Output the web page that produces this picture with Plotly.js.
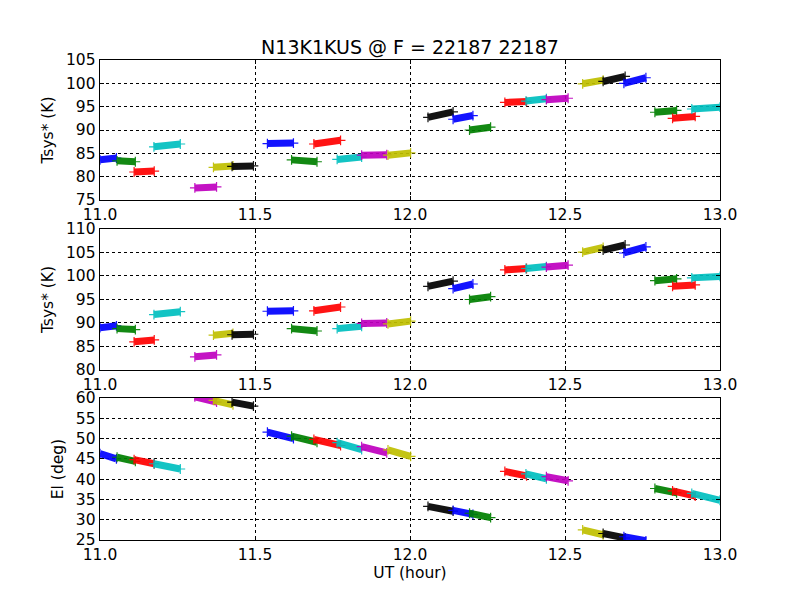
<!DOCTYPE html>
<html>
<head>
<meta charset="utf-8">
<script src="https://cdn.plot.ly/plotly-3.0.1.min.js"></script>
<style>
  body { margin: 0; background: #fff; }
  #myDiv { width: 800px; height: 600px; }
</style>
</head>
<body>
<div id="myDiv"></div>
<script>
// scan segments: start / end UT (hour)
var utStart = [11.000, 11.055, 11.110, 11.174, 11.306, 11.366, 11.426, 11.540, 11.618, 11.690, 11.765, 11.844, 11.929,
               12.058, 12.139, 12.192, 12.306, 12.374, 12.440, 12.557, 12.623, 12.690, 12.790, 12.847, 12.909];
var utEnd   = [11.053, 11.114, 11.175, 11.259, 11.376, 11.429, 11.495, 11.624, 11.700, 11.776, 11.844, 11.925, 12.002,
               12.139, 12.203, 12.260, 12.376, 12.440, 12.510, 12.623, 12.694, 12.761, 12.860, 12.920, 13.000];

// Tsys* top panel (start, end)
var tsys1Start = [83.6, 83.4, 81.0, 86.4, 77.6, 82.0, 82.2, 87.1, 83.6, 87.0, 83.7, 84.6, 84.6,
                  92.7, 92.3, 90.0, 95.9, 96.2, 96.5, 99.9, 100.4, 100.0, 93.8, 92.5, 94.5];
var tsys1End   = [84.0, 83.2, 81.2, 87.0, 77.8, 82.3, 82.3, 87.2, 83.2, 87.8, 84.2, 84.7, 85.1,
                  93.9, 93.1, 90.6, 96.1, 96.7, 96.8, 100.7, 101.5, 101.2, 94.2, 92.9, 94.9];

// Tsys* middle panel (start, end)
var tsys2Start = [89.0, 88.8, 86.0, 91.8, 82.8, 87.4, 87.5, 92.5, 88.8, 92.6, 88.8, 89.9, 89.8,
                  97.8, 97.3, 95.0, 101.3, 101.6, 101.9, 105.1, 105.5, 104.9, 99.0, 97.8, 99.6];
var tsys2End   = [89.4, 88.6, 86.4, 92.4, 83.2, 87.8, 87.6, 92.6, 88.3, 93.4, 89.3, 90.0, 90.4,
                  98.9, 98.3, 95.6, 101.6, 102.0, 102.3, 106.1, 106.6, 106.2, 99.4, 98.1, 99.9];

// Elevation (start, end)
var elStart = [46.3, 45.4, 44.8, 43.8, 60.3, 59.4, 59.0, 51.6, 50.6, 49.8, 49.0, 48.0, 47.2,
               33.3, 32.3, 31.6, 41.9, 41.3, 40.6, 27.5, 26.6, 25.8, 37.7, 37.1, 36.5];
var elEnd   = [45.0, 44.4, 43.8, 42.5, 59.0, 58.3, 58.0, 50.0, 49.1, 48.3, 47.3, 46.5, 45.6,
               32.1, 31.3, 30.5, 40.8, 40.1, 39.6, 26.3, 25.5, 24.8, 36.6, 35.8, 34.8];

var cycleColors = ['#0000ff', '#008000', '#ff0000', '#00bfbf', '#bf00bf', '#bfbf00', '#000000'];

var data = [];
function addPanel(ys, ye, xa, ya) {
    for (var i = 0; i < utStart.length; i++) {
        var c = cycleColors[i % cycleColors.length];
        data.push({
            x: [utStart[i], utEnd[i]],
            y: [ys[i], ye[i]],
            xaxis: xa, yaxis: ya,
            type: 'scatter',
            mode: 'lines+markers',
            line: { color: c, width: 7 },
            marker: { symbol: 'cross-thin', size: 7, line: { color: c, width: 1.2 } },
            opacity: 0.92,
            showlegend: false,
            hoverinfo: 'x+y'
        });
    }
}
addPanel(tsys1Start, tsys1End, 'x', 'y');
addPanel(tsys2Start, tsys2End, 'x2', 'y2');
addPanel(elStart, elEnd, 'x3', 'y3');

var font = { family: 'DejaVu Sans', size: 15.5, color: '#000' };

function xax(anchor) {
    return {
        anchor: anchor, range: [11, 13], tickvals: [11, 11.5, 12, 12.5, 13],
        tickformat: '.1f', ticks: 'inside', ticklen: 4, tickcolor: '#000',
        showline: true, linecolor: '#000', linewidth: 1.3, mirror: 'allticks',
        showgrid: true, gridcolor: '#000', griddash: 'dot', gridwidth: 1,
        zeroline: false, tickfont: font
    };
}
function yax(anchor, domain, range, dtick, title) {
    return {
        anchor: anchor, domain: domain, range: range, dtick: dtick,
        ticks: 'inside', ticklen: 4, tickcolor: '#000',
        showline: true, linecolor: '#000', linewidth: 1.3, mirror: 'allticks',
        showgrid: true, gridcolor: '#000', griddash: 'dot', gridwidth: 1,
        zeroline: false, tickfont: font,
        title: { text: title, font: font, standoff: 8 }
    };
}

var x3 = xax('y3');
x3.title = { text: 'UT (hour)', font: font, standoff: 2 };

var layout = {
    width: 800, height: 600,
    margin: { l: 100, r: 80, t: 60, b: 60 },
    paper_bgcolor: '#fff', plot_bgcolor: '#fff',
    font: font,
    title: { text: 'N13K1KUS @ F = 22187 22187', font: { family: 'DejaVu Sans', size: 19, color: '#000' },
             x: 0.5125, xanchor: 'center', y: 0.921, yanchor: 'middle' },
    xaxis: xax('y'),
    yaxis: yax('x', [0.7083, 1], [75, 105], 5, 'Tsys* (K)'),
    xaxis2: xax('y2'),
    yaxis2: yax('x2', [0.3542, 0.6479], [80, 110], 5, 'Tsys* (K)'),
    xaxis3: x3,
    yaxis3: yax('x3', [0, 0.2958], [25, 60], 5, 'El (deg)'),
    showlegend: false
};

Plotly.newPlot('myDiv', data, layout, { displayModeBar: false, staticPlot: true });
</script>
</body>
</html>
